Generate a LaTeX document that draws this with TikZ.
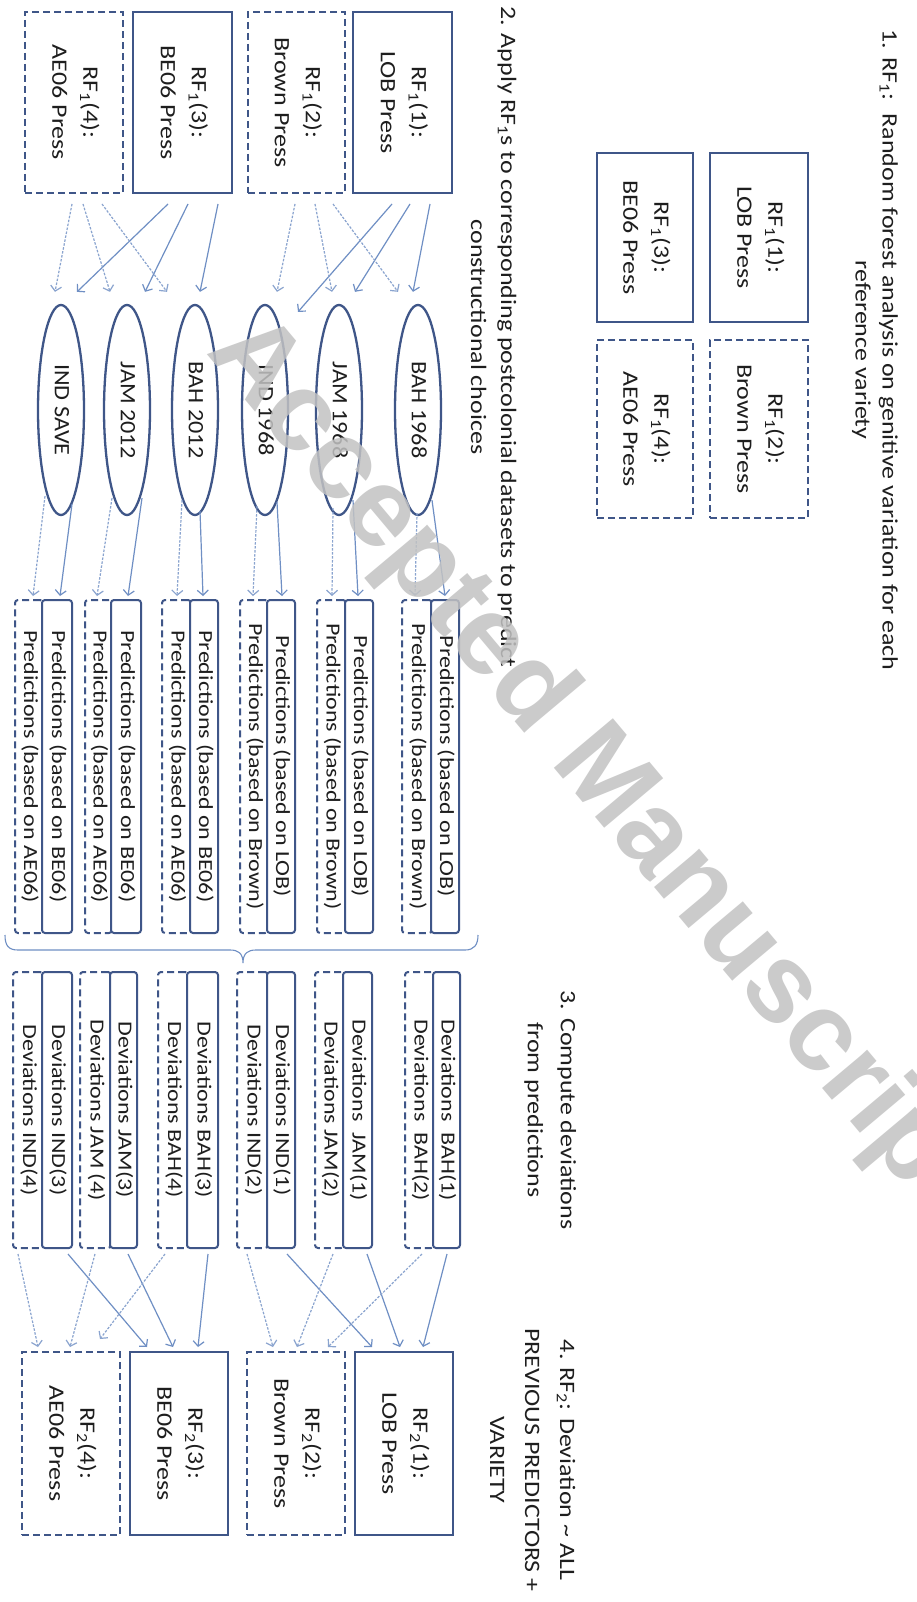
\documentclass[tikz,border=0pt]{standalone}
\usepackage{fontspec}
\setmainfont{Carlito}
\newfontfamily\wmfont{Liberation Sans}
\usepackage{graphicx}
\usetikzlibrary{arrows.meta,calc,shapes.geometric}
\definecolor{boxc}{HTML}{3F5688}
\definecolor{arrc}{HTML}{6F8FC4}
\definecolor{darrc}{HTML}{8AA4CF}
\definecolor{txtc}{HTML}{1E1E1E}
\definecolor{wmc}{HTML}{C2C2C2}
\newcommand{\vt}[2][1.18]{\rotatebox{-90}{\scalebox{#1}[1]{\begin{tabular}{@{}c@{}}#2\end{tabular}}}}
\tikzset{
  sbox/.style={draw=boxc, line width=2pt, fill=white, inner sep=0pt, text=txtc},
  dbox/.style={sbox, dash pattern=on 7pt off 4pt},
  psbox/.style={sbox, rounded corners=3pt},
  pdbox/.style={dbox, rounded corners=3pt},
  ell/.style={ellipse, draw=boxc, line width=2.3pt, fill=white, inner sep=0pt, text=txtc,
              minimum width=46pt, minimum height=210pt},
  sarr/.style={draw=arrc, line width=1.2pt, -{Straight Barb[length=5pt,width=11pt]}},
  darr/.style={draw=darrc, line width=1.2pt, dash pattern=on 2.5pt off 1.5pt,
               -{Straight Barb[length=5pt,width=11pt]}},
  bigt/.style={font=\fontsize{22}{31}\selectfont},
  smallt/.style={font=\fontsize{20}{24}\selectfont},
  titlet/.style={inner sep=0pt, text=txtc},
}
\begin{document}
\begin{tikzpicture}[x=1pt,y=-1pt]
\useasboundingbox (0,0) rectangle (917,1602);
\fill[white] (0,0) rectangle (917,1602);

% ---- titles
\node[titlet, font=\fontsize{22}{27}\selectfont] (t1) at (874.5,350)
  {\vt{1. RF\textsubscript{1}:~ Random forest analysis on genitive variation for each\\reference variety}};
\node[titlet, font=\fontsize{22}{30}\selectfont] (t2) at (492,337)
  {\vt{2. Apply RF\textsubscript{1}s to corresponding postcolonial datasets to predict\\constructional choices}};
\node[titlet, font=\fontsize{22}{33}\selectfont] (t3) at (551,1110)
  {\vt{3. Compute deviations\\from predictions}};
\node[titlet, font=\fontsize{22}{35}\selectfont] (t4) at (532,1460)
  {\vt{4. RF\textsubscript{2}: Deviation \textasciitilde{} ALL\\PREVIOUS PREDICTORS +\\VARIETY}};

% ---- top-right RF1 boxes
\node[sbox, bigt, minimum width=98pt, minimum height=169pt] (ta) at (759,237.5) {\vt{RF\textsubscript{1}(1):\\LOB Press}};
\node[sbox, bigt, minimum width=96pt, minimum height=169pt] (tc) at (645,237.5) {\vt{RF\textsubscript{1}(3):\\BE06 Press}};
\node[dbox, bigt, minimum width=98pt, minimum height=178pt] (tb) at (759,429) {\vt{RF\textsubscript{1}(2):\\Brown Press}};
\node[dbox, bigt, minimum width=96pt, minimum height=178pt] (td) at (645,429) {\vt{RF\textsubscript{1}(4):\\AE06 Press}};

% ---- RF1 boxes (left column)
\node[sbox, bigt, minimum width=99pt, minimum height=181pt] (r1a) at (402.5,102.5) {\vt{RF\textsubscript{1}(1):\\LOB Press}};
\node[dbox, bigt, minimum width=97pt, minimum height=181pt] (r1b) at (296.5,102.5) {\vt{RF\textsubscript{1}(2):\\Brown Press}};
\node[sbox, bigt, minimum width=99pt, minimum height=181pt] (r1c) at (182.5,102.5) {\vt{RF\textsubscript{1}(3):\\BE06 Press}};
\node[dbox, bigt, minimum width=98pt, minimum height=181pt] (r1d) at (74,102.5) {\vt{RF\textsubscript{1}(4):\\AE06 Press}};

% ---- ellipses
\node[ell, bigt] (e1) at (418,410) {\vt[1.1]{BAH 1968}};
\node[ell, bigt] (e2) at (339,410) {\vt[1.1]{JAM 1968}};
\node[ell, bigt] (e3) at (265,410) {\vt[1.1]{IND 1968}};
\node[ell, bigt] (e4) at (195,410) {\vt[1.1]{BAH 2012}};
\node[ell, bigt] (e5) at (127,410) {\vt[1.1]{JAM 2012}};
\node[ell, bigt] (e6) at (61,410) {\vt[1.1]{IND SAVE}};

% ---- prediction boxes
\node[pdbox, smallt, minimum width=30pt, minimum height=333pt] (pd1) at (417,766.5) {\vt[1.2]{Predictions (based on Brown)}};
\node[psbox, smallt, minimum width=28pt, minimum height=333pt] (ps1) at (445,766.5) {\vt[1.2]{Predictions (based on LOB)}};
\node[pdbox, smallt, minimum width=29pt, minimum height=333pt] (pd2) at (331.5,766.5) {\vt[1.2]{Predictions (based on Brown)}};
\node[psbox, smallt, minimum width=28pt, minimum height=333pt] (ps2) at (359,766.5) {\vt[1.2]{Predictions (based on LOB)}};
\node[pdbox, smallt, minimum width=28pt, minimum height=333pt] (pd3) at (254,766.5) {\vt[1.2]{Predictions (based on Brown)}};
\node[psbox, smallt, minimum width=28pt, minimum height=333pt] (ps3) at (281,766.5) {\vt[1.2]{Predictions (based on LOB)}};
\node[pdbox, smallt, minimum width=29pt, minimum height=333pt] (pd4) at (176.5,766.5) {\vt[1.2]{Predictions (based on AE06)}};
\node[psbox, smallt, minimum width=28pt, minimum height=333pt] (ps4) at (204,766.5) {\vt[1.2]{Predictions (based on BE06)}};
\node[pdbox, smallt, minimum width=27pt, minimum height=333pt] (pd5) at (98.5,766.5) {\vt[1.2]{Predictions (based on AE06)}};
\node[psbox, smallt, minimum width=30pt, minimum height=333pt] (ps5) at (126,766.5) {\vt[1.2]{Predictions (based on BE06)}};
\node[pdbox, smallt, minimum width=28pt, minimum height=333pt] (pd6) at (29,766.5) {\vt[1.2]{Predictions (based on AE06)}};
\node[psbox, smallt, minimum width=30pt, minimum height=333pt] (ps6) at (57,766.5) {\vt[1.2]{Predictions (based on BE06)}};

% ---- brace
\draw[arrc, line width=1.1pt] (5,935) .. controls (5,945) and (8,950) .. (18,950) -- (230,950)
  .. controls (238,950) and (243,953) .. (243,963) .. controls (243,953) and (248,950) .. (256,950)
  -- (465,950) .. controls (474,950) and (478,945) .. (478,935);

% ---- deviation boxes
\node[pdbox, smallt, minimum width=29pt, minimum height=276pt] (dd1) at (419.5,1110) {\vt[1.2]{Deviations~ BAH(2)}};
\node[psbox, smallt, minimum width=27pt, minimum height=276pt] (ds1) at (446.5,1110) {\vt[1.2]{Deviations~ BAH(1)}};
\node[pdbox, smallt, minimum width=29pt, minimum height=276pt] (dd2) at (329.5,1110) {\vt[1.2]{Deviations JAM(2)}};
\node[psbox, smallt, minimum width=29pt, minimum height=276pt] (ds2) at (357.5,1110) {\vt[1.2]{Deviations~ JAM(1)}};
\node[pdbox, smallt, minimum width=31pt, minimum height=276pt] (dd3) at (252.5,1110) {\vt[1.2]{Deviations IND(2)}};
\node[psbox, smallt, minimum width=28pt, minimum height=276pt] (ds3) at (281,1110) {\vt[1.2]{Deviations IND(1)}};
\node[pdbox, smallt, minimum width=30pt, minimum height=276pt] (dd4) at (173,1110) {\vt[1.2]{Deviations BAH(4)}};
\node[psbox, smallt, minimum width=31pt, minimum height=276pt] (ds4) at (202.5,1110) {\vt[1.2]{Deviations BAH(3)}};
\node[pdbox, smallt, minimum width=31pt, minimum height=276pt] (dd5) at (95.5,1110) {\vt[1.2]{Deviations JAM (4)}};
\node[psbox, smallt, minimum width=27pt, minimum height=276pt] (ds5) at (123.5,1110) {\vt[1.2]{Deviations JAM(3)}};
\node[pdbox, smallt, minimum width=30pt, minimum height=276pt] (dd6) at (28,1110) {\vt[1.2]{Deviations IND(4)}};
\node[psbox, smallt, minimum width=30pt, minimum height=276pt] (ds6) at (57,1110) {\vt[1.2]{Deviations IND(3)}};

% ---- RF2 boxes
\node[sbox, bigt, minimum width=98pt, minimum height=183pt] (q1) at (404,1443.5) {\vt{RF\textsubscript{2}(1):\\LOB Press}};
\node[dbox, bigt, minimum width=98pt, minimum height=183pt] (q2) at (296,1443.5) {\vt{RF\textsubscript{2}(2):\\Brown Press}};
\node[sbox, bigt, minimum width=98pt, minimum height=183pt] (q3) at (179,1443.5) {\vt{RF\textsubscript{2}(3):\\BE06 Press}};
\node[dbox, bigt, minimum width=98pt, minimum height=183pt] (q4) at (71,1443.5) {\vt{RF\textsubscript{2}(4):\\AE06 Press}};

% ---- arrows RF1 -> datasets
\draw[sarr] ($(r1a.south)+(27.5,10)$) -- ($(e1.north)+(-5,-12)$);
\draw[sarr] ($(r1a.south)+(7.5,10)$) -- ($(e2.north)+(16,-12)$);
\draw[sarr] ($(r1a.south)+(-10.5,10)$) -- ($(e3.north)+(33,8)$);
\draw[darr] ($(r1b.south)+(36.5,10)$) -- ($(e1.north)+(-20,-12)$);
\draw[darr] ($(r1b.south)+(18.5,10)$) -- ($(e2.north)+(-7,-12)$);
\draw[darr] ($(r1b.south)+(-1.5,10)$) -- ($(e3.north)+(12,-12)$);
\draw[sarr] ($(r1c.south)+(35.5,10)$) -- ($(e4.north)+(5,-12)$);
\draw[sarr] ($(r1c.south)+(5.5,10)$) -- ($(e5.north)+(18,-12)$);
\draw[sarr] ($(r1c.south)+(-14.5,10)$) -- ($(e6.north)+(16,-12)$);
\draw[darr] ($(r1d.south)+(28,10)$) -- ($(e4.north)+(-28,-12)$);
\draw[darr] ($(r1d.south)+(9,10)$) -- ($(e5.north)+(-17,-12)$);
\draw[darr] ($(r1d.south)+(-2,10)$) -- ($(e6.north)+(-6,-12)$);

% ---- arrows datasets -> predictions
\draw[darr] ($(e1.south)+(-1,-3)$) -- ($(pd1.north)+(-2,-3)$);
\draw[sarr] ($(e1.south)+(14,-16)$) -- ($(ps1.north)+(0,-3)$);
\draw[darr] ($(e2.south)+(-6,-8)$) -- ($(pd2.north)+(0.5,-3)$);
\draw[sarr] ($(e2.south)+(14,-16)$) -- ($(ps2.north)+(-1,-3)$);
\draw[darr] ($(e3.south)+(-8,-10)$) -- ($(pd3.north)+(-1,-3)$);
\draw[sarr] ($(e3.south)+(12,-14)$) -- ($(ps3.north)+(1,-3)$);
\draw[darr] ($(e4.south)+(-13,-16)$) -- ($(pd4.north)+(0.5,-3)$);
\draw[sarr] ($(e4.south)+(5,-5)$) -- ($(ps4.north)+(-1,-3)$);
\draw[darr] ($(e5.south)+(-15,-18)$) -- ($(pd5.north)+(-1.5,-3)$);
\draw[sarr] ($(e5.south)+(15,-18)$) -- ($(ps5.north)+(2,-3)$);
\draw[darr] ($(e6.south)+(-16,-20)$) -- ($(pd6.north)+(4,-3)$);
\draw[sarr] ($(e6.south)+(11,-12)$) -- ($(ps6.north)+(3,-3)$);

% ---- arrows deviations -> RF2
\draw[darr] ($(dd6.south)+(-10,5)$) -- ($(q4.north)+(-33,-4)$);
\draw[sarr] ($(ds6.south)+(11,5)$) -- ($(q3.north)+(-32,-4)$);
\draw[darr] ($(dd5.south)+(-0.5,5)$) -- ($(q4.north)+(-1,-4)$);
\draw[sarr] ($(ds5.south)+(4.5,5)$) -- ($(q3.north)+(-6,-4)$);
\draw[darr] ($(dd4.south)+(-8,5)$) -- ($(q4.north)+(29,-12)$);
\draw[sarr] ($(ds4.south)+(5.5,5)$) -- ($(q3.north)+(19,-4)$);
\draw[darr] ($(dd3.south)+(-5.5,5)$) -- ($(q2.north)+(-23,-4)$);
\draw[sarr] ($(ds3.south)+(6,5)$) -- ($(q1.north)+(-32,-4)$);
\draw[darr] ($(dd2.south)+(3.5,5)$) -- ($(q2.north)+(1,-4)$);
\draw[sarr] ($(ds2.south)+(9.5,5)$) -- ($(q1.north)+(-4,-4)$);
\draw[darr] ($(dd1.south)+(2.5,5)$) -- ($(q2.north)+(32,-4)$);
\draw[sarr] ($(ds1.south)+(0.5,5)$) -- ($(q1.north)+(19,-4)$);

% ---- watermark
\node[rotate=-50, text=wmc, opacity=0.85, inner sep=0pt,
      font=\wmfont\bfseries\fontsize{112}{112}\selectfont] (wm) at (592,768) {Accepted Manuscript};
\end{tikzpicture}
\end{document}
